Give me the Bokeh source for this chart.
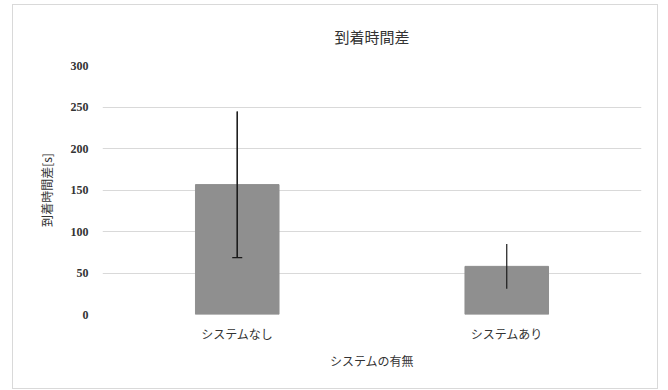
from bokeh.plotting import figure
from bokeh.models import Whisker, ColumnDataSource, FixedTicker, TeeHead
from bokeh.embed import file_html
from bokeh.resources import INLINE

title_text = "到着時間差"
categories = ["システムなし", "システムあり"]
means = [156.5, 58.0]
errors = [88.0, 27.0]
y_ticks = [0, 50, 100, 150, 200, 250, 300]

lower = [m - e for m, e in zip(means, errors)]
upper = [m + e for m, e in zip(means, errors)]
src = ColumnDataSource(dict(x=categories, top=means, lower=lower, upper=upper))
src_cap = ColumnDataSource(dict(x=categories[:1], lower=lower[:1], upper=upper[:1]))

p = figure(x_range=categories, y_range=(0, 300), width=646, height=385,
           output_backend="svg", toolbar_location=None,
           title=title_text,
           min_border_left=89, min_border_right=18, min_border_top=60, min_border_bottom=76)
p.styles = {"margin-left": "12px", "margin-top": "4px", "border": "1px solid #d9d9d9"}
p.outline_line_color = None

p.vbar(x="x", top="top", width=0.31, source=src, color="#8f8f8f")
p.add_layout(Whisker(base="x", lower="lower", upper="upper", source=src, level="overlay",
                     line_color="#1a1a1a", line_width=1.2, upper_head=None, lower_head=None))
p.add_layout(Whisker(base="x", lower="lower", upper="upper", source=src_cap, level="overlay",
                     line_color="#1a1a1a", line_width=1.2, upper_head=None,
                     lower_head=TeeHead(size=10, line_color="#1a1a1a", line_width=1.2)))

p.title.align = "center"
p.title.text_font = "Noto Sans CJK JP"
p.title.text_font_size = "15px"
p.title.text_font_style = "normal"
p.title.text_color = "#333333"
p.title.standoff = 37

p.yaxis.ticker = FixedTicker(ticks=y_ticks)
p.ygrid.ticker = FixedTicker(ticks=y_ticks[:-1])
p.ygrid.grid_line_color = "#d9d9d9"
p.xgrid.grid_line_color = None
for ax in (p.xaxis, p.yaxis):
    ax.axis_line_color = None
    ax.major_tick_line_color = None
    ax.minor_tick_line_color = None
    ax.axis_label_text_font_style = "normal"
    ax.axis_label_text_font_size = "12px"
    ax.axis_label_text_font = "Noto Sans CJK JP"
    ax.axis_label_text_color = "#333333"
    ax.major_label_text_color = "#333333"
p.yaxis.major_label_text_font = "Liberation Serif"
p.yaxis.major_label_text_font_style = "bold"
p.yaxis.major_label_text_font_size = "12px"
p.xaxis.major_label_text_font = "Noto Sans CJK JP"
p.xaxis.major_label_text_font_size = "12px"
p.yaxis.axis_label = "到着時間差[s]"
p.xaxis.axis_label = "システムの有無"
p.yaxis.major_label_standoff = 8
p.yaxis.axis_label_standoff = 13
p.xaxis.major_label_standoff = 4
p.xaxis.axis_label_standoff = 7

open("out.html", "w").write(file_html(p, INLINE))
